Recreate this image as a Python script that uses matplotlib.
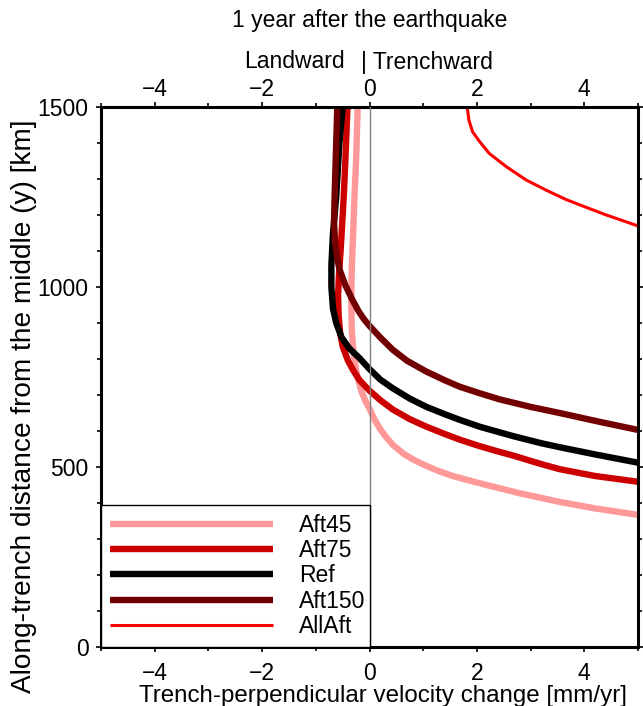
import numpy as np
import matplotlib
matplotlib.use("Agg")
import matplotlib.pyplot as plt
from matplotlib.ticker import MultipleLocator
from matplotlib.transforms import ScaledTranslation

plt.rcParams['font.family'] = ['Liberation Sans', 'DejaVu Sans']
plt.rcParams['font.size'] = 16.5

# curves: velocity change [mm/yr] vs along-trench distance [km]
y_aft45 = [1500, 1350, 1250, 1130, 1050, 960, 880, 820, 760, 710, 685, 662, 630, 605, 585, 562,
           535, 518, 503, 488, 475, 455, 438, 427, 403, 385, 367]
x_aft45 = [-0.22, -0.25, -0.28, -0.31, -0.33, -0.34, -0.33, -0.3, -0.24, -0.15, -0.08, 0.0, 0.1,
           0.2, 0.3, 0.43, 0.65, 0.85, 1.06, 1.3, 1.55, 2.05, 2.5, 2.8, 3.54, 4.2, 5.0]

y_aft75 = [1500, 1350, 1250, 1120, 1030, 975, 920, 870, 835, 795, 768, 742, 712, 686, 660, 633,
           612, 590, 576, 558, 542, 532, 508, 494, 475, 459]
x_aft75 = [-0.41, -0.45, -0.48, -0.53, -0.57, -0.585, -0.575, -0.545, -0.5, -0.4, -0.3, -0.19,
           0.0, 0.2, 0.43, 0.75, 1.06, 1.43, 1.68, 2.05, 2.42, 2.67, 3.2, 3.54, 4.2, 5.0]

y_ref = [1500, 1400, 1250, 1150, 1060, 1000, 940, 900, 860, 830, 803, 772, 743, 719, 690, 667,
         645, 631, 612, 586, 566, 555, 535, 512]
x_ref = [-0.5, -0.56, -0.62, -0.68, -0.71, -0.71, -0.68, -0.62, -0.52, -0.38, -0.19, 0.0, 0.2,
         0.43, 0.75, 1.06, 1.43, 1.68, 2.05, 2.67, 3.2, 3.54, 4.2, 5.0]

y_aft150 = [1500, 1350, 1250, 1180, 1120, 1080, 1050, 1005, 962, 932, 910, 892, 860, 826, 795,
            765, 741, 723, 705, 688, 667, 650, 625, 603]
x_aft150 = [-0.6, -0.63, -0.65, -0.66, -0.64, -0.6, -0.56, -0.45, -0.31, -0.2, -0.1, 0.0, 0.2,
            0.43, 0.7, 1.06, 1.4, 1.68, 2.05, 2.42, 3.0, 3.54, 4.3, 5.0]

y_allaft = [1500, 1464, 1431, 1404, 1371, 1334, 1297, 1269, 1243, 1221, 1200, 1181, 1168]
x_allaft = [1.82, 1.85, 1.92, 2.05, 2.23, 2.55, 2.92, 3.29, 3.66, 4.04, 4.41, 4.78, 5.03]

labels = ['Aft45', 'Aft75', 'Ref', 'Aft150', 'AllAft']

fig = plt.figure(figsize=(6.43, 7.06), dpi=100)
ax = fig.add_axes([101/643, 1-647/706, 537/643, 540/706])

kw = dict(solid_capstyle='butt', solid_joinstyle='round')
ax.plot(x_aft45, y_aft45, color='#ff9999', lw=4.6, label=labels[0], **kw)
ax.plot(x_aft75, y_aft75, color='#cc0000', lw=4.6, label=labels[1], **kw)
ax.plot(x_ref, y_ref, color='black', lw=4.6, label=labels[2], **kw)
ax.plot(x_aft150, y_aft150, color='#730000', lw=4.6, label=labels[3], **kw)
ax.plot(x_allaft, y_allaft, color='#ff0000', lw=2.2, label=labels[4], **kw)
ax.axvline(0, color='#808080', lw=1.0, zorder=5)

ax.set_xlim(-5, 5)
ax.set_ylim(0, 1500)
ax.xaxis.set_major_locator(MultipleLocator(2))
ax.xaxis.set_minor_locator(MultipleLocator(1))
ax.yaxis.set_major_locator(MultipleLocator(500))
ax.yaxis.set_minor_locator(MultipleLocator(100))
ax.tick_params(which='both', direction='out', top=True, right=True, labeltop=True, width=1.2)
ax.tick_params(which='major', length=3.6)
ax.tick_params(which='minor', length=2.6)
ax.tick_params(axis='x', which='major', pad=7)
ax.tick_params(axis='y', which='major', pad=5.3)
for s in ax.spines.values():
    s.set_linewidth(2.2)

ax.set_xlabel('Trench-perpendicular velocity change [mm/yr]', fontsize=17.4, labelpad=0)
ax.xaxis.label.set_x(0.525)
ax.set_ylabel('Along-trench distance from the middle (y) [km]', fontsize=20.2)
ax.yaxis.set_label_coords(-0.119, 0.445)

fig.text(370/643, 1-21/706, '1 year after the earthquake', ha='center', va='center')
fig.text(345/643, 1-62/706, 'Landward', ha='right', va='center')
fig.text(361/643, 1-62/706, '| Trenchward', ha='left', va='center')

leg = ax.legend(loc='lower left', bbox_to_anchor=(0, 0, 0.5, 0.263), mode='expand',
                borderaxespad=0, fancybox=False, framealpha=1, edgecolor='black',
                handlelength=7.1, handletextpad=1.15, labelspacing=0.1, borderpad=0.4)
leg.get_frame().set_linewidth(1.0)

# top tick labels sit closer to the frame than the bottom ones
for t in ax.xaxis.get_major_ticks():
    t.label2.set_transform(t.label2.get_transform() + ScaledTranslation(0, -6.5/72, fig.dpi_scale_trans))

fig.savefig('out.png', dpi=100)
